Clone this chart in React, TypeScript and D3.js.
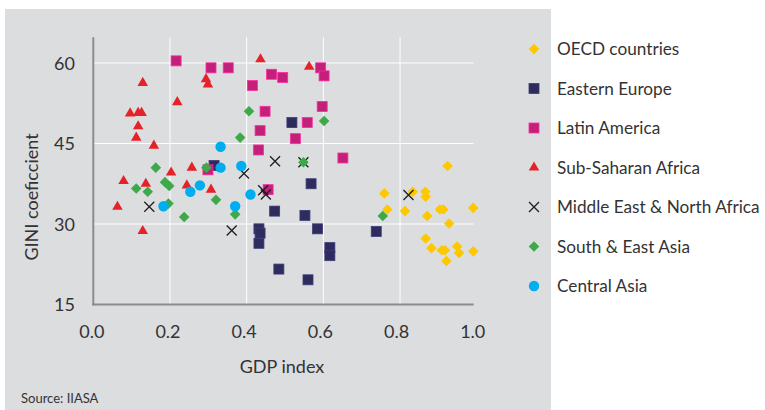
import React, { useEffect, useRef } from 'react';
import * as d3 from 'd3';

// [GDP index, GINI] pairs
const oecd: [number, number][] = [
  [0.924, 40.8], [0.759, 35.7], [0.833, 36.0], [0.866, 36.0], [0.867, 35.1],
  [0.767, 32.7], [0.813, 32.4], [0.871, 31.5], [0.904, 32.7], [0.913, 32.7],
  [0.991, 33.0], [0.928, 30.1], [0.867, 27.3], [0.882, 25.5], [0.909, 25.1],
  [0.917, 25.1], [0.949, 25.8], [0.954, 24.6], [0.991, 24.9], [0.921, 23.1],
];
const easternEurope: [number, number][] = [
  [0.315, 40.9], [0.518, 48.9], [0.568, 37.5], [0.473, 32.4], [0.552, 31.6],
  [0.585, 29.1], [0.738, 28.6], [0.617, 25.6], [0.617, 24.1], [0.484, 21.6],
  [0.560, 19.6], [0.432, 29.1], [0.435, 28.3], [0.432, 26.4],
];
const latinAmerica: [number, number][] = [
  [0.216, 60.4], [0.307, 59.1], [0.352, 59.1], [0.465, 57.9], [0.494, 57.3],
  [0.415, 55.8], [0.448, 51.0], [0.435, 47.4], [0.431, 43.8], [0.299, 40.1],
  [0.593, 59.1], [0.602, 57.6], [0.597, 51.9], [0.558, 48.9], [0.527, 45.9],
  [0.651, 42.3], [0.456, 36.4],
];
const subSaharan: [number, number][] = [
  [0.129, 56.3], [0.294, 57.0], [0.299, 56.0], [0.219, 52.7], [0.096, 50.6],
  [0.117, 50.7], [0.126, 50.7], [0.117, 48.2], [0.112, 46.1], [0.158, 44.6],
  [0.203, 39.6], [0.257, 40.5], [0.436, 60.7], [0.563, 59.3], [0.079, 38.0],
  [0.137, 37.5], [0.063, 33.2], [0.129, 28.7], [0.244, 37.2], [0.307, 36.4],
];
const menaPts: [number, number][] = [
  [0.474, 41.7], [0.548, 41.5], [0.393, 39.4], [0.146, 33.2], [0.361, 28.8],
  [0.443, 36.3], [0.450, 35.5], [0.822, 35.4],
];
const southEastAsia: [number, number][] = [
  [0.406, 51.0], [0.383, 46.1], [0.163, 40.5], [0.295, 40.5], [0.602, 49.2],
  [0.548, 41.5], [0.112, 36.6], [0.142, 36.0], [0.187, 37.8], [0.198, 37.1],
  [0.196, 33.8], [0.320, 34.5], [0.237, 31.3], [0.370, 31.8], [0.755, 31.5],
];
const centralAsia: [number, number][] = [
  [0.332, 44.4], [0.332, 40.5], [0.386, 40.8], [0.278, 37.2], [0.253, 36.0],
  [0.183, 33.3], [0.370, 33.3], [0.410, 35.5],
];

const xTicks = [0, 0.2, 0.4, 0.6, 0.8, 1.0];
const yTicks = [15, 30, 45, 60];

type Series = { name: string; shape: string; color: string; pts: [number, number][] };
const series: Series[] = [
  { name: 'OECD countries', shape: 'diamond', color: '#fdc800', pts: oecd },
  { name: 'Eastern Europe', shape: 'square', color: '#2e2c5c', pts: easternEurope },
  { name: 'Latin America', shape: 'square', color: '#c3207a', pts: latinAmerica },
  { name: 'Sub-Saharan Africa', shape: 'triangle', color: '#e5222a', pts: subSaharan },
  { name: 'Middle East & North Africa', shape: 'x', color: '#1e1e1e', pts: menaPts },
  { name: 'South & East Asia', shape: 'diamond', color: '#3ea94a', pts: southEastAsia },
  { name: 'Central Asia', shape: 'circle', color: '#00adee', pts: centralAsia },
];

const FONT = 'Lato, "Open Sans", sans-serif';

function drawMarker(g: any, shape: string, color: string) {
  if (shape === 'square') {
    g.append('rect').attr('x', -5).attr('y', -5).attr('width', 10).attr('height', 10)
      .attr('fill', color).attr('stroke', d3.color(color)!.brighter(0.8).toString())
      .attr('stroke-width', 0.8);
  } else if (shape === 'diamond') {
    g.append('path').attr('d', d3.symbol(d3.symbolSquare, 56)()!)
      .attr('transform', 'rotate(45)').attr('fill', color);
  } else if (shape === 'triangle') {
    g.append('path').attr('d', d3.symbol(d3.symbolTriangle, 48)()!).attr('fill', color);
  } else if (shape === 'circle') {
    g.append('circle').attr('r', 5.2).attr('fill', color);
  } else {
    g.append('path').attr('d', 'M-5,-5L5,5M-5,5L5,-5')
      .attr('stroke', color).attr('stroke-width', 1.3).attr('fill', 'none');
  }
}

export default function App() {
  const svgRef = useRef<SVGSVGElement>(null);

  useEffect(() => {
    const width = 765;
    const height = 410;
    const svg = d3.select(svgRef.current);
    svg.selectAll('*').remove();
    svg.attr('width', width).attr('height', height);

    svg.append('rect').attr('width', width).attr('height', height).attr('fill', '#fff');
    // grey panel
    svg.append('rect').attr('x', 5).attr('y', 9).attr('width', 546).attr('height', height - 9)
      .attr('fill', '#dcdddf');

    const x = d3.scaleLinear().domain([0, 1]).range([93.3, 476.7]);
    const y = d3.scaleLinear().domain([15, 60]).range([304.5, 63]);
    const xEnd = x(0.992);
    const yTop = y(64.8);

    // gridlines
    svg.append('g').selectAll('line').data(xTicks.filter(t => t > 0 && t < 1)).join('line')
      .attr('x1', d => x(d)).attr('x2', d => x(d)).attr('y1', y(15)).attr('y2', yTop)
      .attr('stroke', '#fff').attr('stroke-width', 1);
    svg.append('g').selectAll('line').data(yTicks.filter(t => t > 15)).join('line')
      .attr('x1', x(0)).attr('x2', xEnd).attr('y1', d => y(d)).attr('y2', d => y(d))
      .attr('stroke', '#fff').attr('stroke-width', 1);

    // axis lines
    svg.append('line').attr('x1', x(0)).attr('x2', x(0)).attr('y1', yTop).attr('y2', y(15) + 1)
      .attr('stroke', '#8c8c8c').attr('stroke-width', 2);
    svg.append('line').attr('x1', x(0) - 1).attr('x2', xEnd).attr('y1', y(15)).attr('y2', y(15))
      .attr('stroke', '#8c8c8c').attr('stroke-width', 2);

    // tick labels
    svg.append('g').selectAll('text').data(xTicks).join('text')
      .attr('x', d => x(d) - 1.5 - d * 2.5).attr('y', 338)
      .attr('text-anchor', 'middle').attr('font-family', FONT).attr('font-size', 18)
      .attr('fill', '#333').text(d => d3.format('.1f')(d));
    svg.append('g').selectAll('text').data(yTicks).join('text')
      .attr('x', 75).attr('y', d => y(d) + 6.5)
      .attr('text-anchor', 'end').attr('font-family', FONT).attr('font-size', 18)
      .attr('fill', '#333').text(d => d);

    // axis titles
    svg.append('text').attr('x', 282).attr('y', 373).attr('text-anchor', 'middle')
      .attr('font-family', FONT).attr('font-size', 18).attr('fill', '#333').text('GDP index');
    svg.append('text').attr('transform', 'translate(38,197) rotate(-90)').attr('text-anchor', 'middle')
      .attr('font-family', FONT).attr('font-size', 18).attr('fill', '#333').text('GINI coeficcient');
    svg.append('text').attr('x', 21).attr('y', 403)
      .attr('font-family', FONT).attr('font-size', 13).attr('fill', '#333').text('Source: IIASA');

    // points
    series.forEach(s => {
      const g = svg.append('g');
      s.pts.forEach(p => {
        const m = g.append('g').attr('transform', `translate(${x(p[0])},${y(p[1])})`);
        drawMarker(m, s.shape, s.color);
      });
    });

    // legend
    const legend = svg.append('g');
    series.forEach((s, i) => {
      const ly = 49 + i * 39.5;
      const m = legend.append('g').attr('transform', `translate(534,${ly})`);
      drawMarker(m, s.shape, s.color);
      legend.append('text').attr('x', 557).attr('y', ly + 6)
        .attr('font-family', FONT).attr('font-size', 17.2).attr('fill', '#333').text(s.name);
    });
  }, []);

  return <svg ref={svgRef} style={{ position: 'absolute', left: 0, top: 0 }}></svg>;
}
